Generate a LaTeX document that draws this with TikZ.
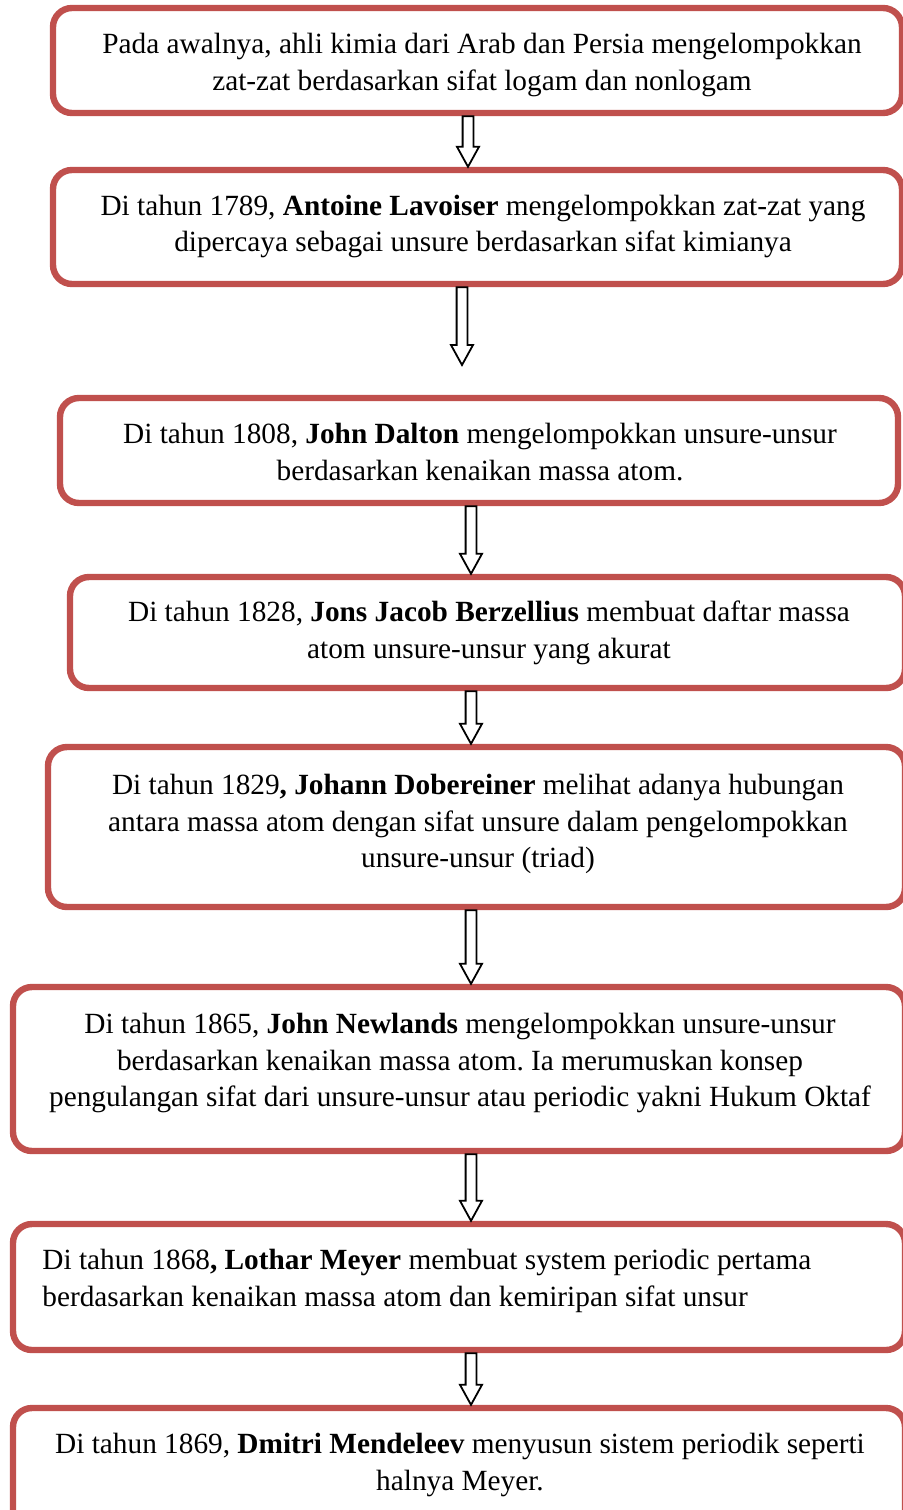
\documentclass[tikz,border=0pt]{standalone}
\usepackage{fontspec}
\setmainfont{Liberation Serif}
\usepackage{xcolor}
\usetikzlibrary{calc}
\frenchspacing

\definecolor{boxred}{RGB}{192,80,77}

\tikzset{
  card/.style 2 args={draw=boxred, line width=3.2pt, rounded corners=9.5pt,
    fill=white, minimum width=#1*0.5pt, minimum height=#2*0.5pt, inner sep=0pt},
  entry/.style={inner sep=0pt, align=center,
    font=\fontsize{14.65pt}{18.2pt}\selectfont},
  hollow/.style={draw=black, fill=white, line width=0.9pt, line join=miter}
}

\newcommand{\hollowarrow}[3]{%
  \draw[hollow] let \p1=(#1,0 |- #2), \p2=(#1,0 |- #3) in
    (\x1-2.7pt,\y1) -- (\x1-2.7pt,\y2+10pt) -- (\x1-5.5pt,\y2+10pt) -- (\x2,\y2)
    -- (\x1+5.5pt,\y2+10pt) -- (\x1+2.7pt,\y2+10pt) -- (\x1+2.7pt,\y1) -- cycle;}

\begin{document}
\begin{tikzpicture}[x=0.5pt, y=-0.5pt]
    \useasboundingbox (0,0) rectangle (903,1510);
    \clip (0,0) rectangle (903,1510);

    \node[card={849}{105}] (b1) at (477.5,60.5) {};
    \node[card={849}{114}] (b2) at (477.5,227) {};
    \node[card={838}{105}] (b3) at (479,450.5) {};
    \node[card={835}{111}] (b4) at (487.5,632.5) {};
    \node[card={857}{160}] (b5) at (476.5,827) {};
    \node[card={892}{164}] (b6) at (459,1069) {};
    \node[card={892}{126}] (b7) at (459,1287) {};
    \node[card={892}{122}] (b8) at (459,1469) {};
    \coordinate (tip2) at (462,365);

    \node[entry] (t1) at (482,65) {Pada awalnya, ahli kimia dari Arab dan Persia mengelompokkan\\zat-zat berdasarkan sifat logam dan nonlogam};
    \node[entry] (t2) at (483,226.5) {Di tahun 1789, \textbf{Antoine Lavoiser} mengelompokkan zat-zat yang\\dipercaya sebagai unsure berdasarkan sifat kimianya};
    \node[entry] (t3) at (480,452) {Di tahun 1808, \textbf{John Dalton} mengelompokkan unsure-unsur\\berdasarkan kenaikan massa atom.};
    \node[entry] (t4) at (489,633) {Di tahun 1828, \textbf{Jons Jacob Berzellius} membuat daftar massa\\atom unsure-unsur yang akurat};
    \node[entry] (t5) at (478,824) {Di tahun 1829\textbf{, Johann Dobereiner} melihat adanya hubungan\\antara massa atom dengan sifat unsure dalam pengelompokkan\\unsure-unsur (triad)};
    \node[entry] (t6) at (460,1063) {Di tahun 1865, \textbf{John Newlands} mengelompokkan unsure-unsur\\berdasarkan kenaikan massa atom. Ia merumuskan konsep\\pengulangan sifat dari unsure-unsur atau periodic yakni Hukum Oktaf};
    \node[entry, align=left, anchor=west] (t7) at (42,1281) {Di tahun 1868\textbf{, Lothar Meyer} membuat system periodic pertama\\berdasarkan kenaikan massa atom dan kemiripan sifat unsur};
    \node[entry] (t8) at (460,1465) {Di tahun 1869, \textbf{Dmitri Mendeleev} menyusun sistem periodik seperti\\halnya Meyer.};

    \hollowarrow{468}{b1.south}{b2.north}
    \hollowarrow{462}{b2.south}{tip2}
    \hollowarrow{471}{b3.south}{b4.north}
    \hollowarrow{471}{b4.south}{b5.north}
    \hollowarrow{471}{b5.south}{b6.north}
    \hollowarrow{471}{b6.south}{b7.north}
    \hollowarrow{471}{b7.south}{b8.north}
\end{tikzpicture}
\end{document}
